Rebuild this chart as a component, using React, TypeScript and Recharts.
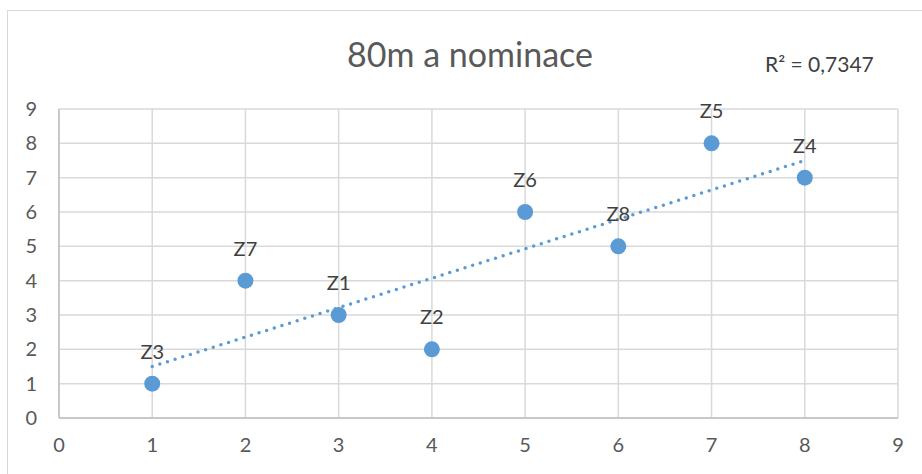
import {
  ScatterChart,
  Scatter,
  XAxis,
  YAxis,
  CartesianGrid,
  ReferenceLine,
} from 'recharts';

const names = ['Z3', 'Z7', 'Z1', 'Z2', 'Z6', 'Z8', 'Z5', 'Z4'];
const xValues = [1, 2, 3, 4, 5, 6, 7, 8];
const yValues = [1, 4, 3, 2, 6, 5, 8, 7];
const axisTicks = [0, 1, 2, 3, 4, 5, 6, 7, 8, 9];
const rSquaredLabel = 'R² = 0,7347';
const title = '80m a nominace';

const points = names.map((name, i) => ({ name, x: xValues[i], y: yValues[i] }));

// least squares line, like the Excel linear trendline
function linearFit(xs: number[], ys: number[]) {
  const n = xs.length;
  const mx = xs.reduce((a, b) => a + b, 0) / n;
  const my = ys.reduce((a, b) => a + b, 0) / n;
  let sxy = 0;
  let sxx = 0;
  xs.forEach((x, i) => {
    sxy += (x - mx) * (ys[i] - my);
    sxx += (x - mx) * (x - mx);
  });
  const slope = sxy / sxx;
  return { slope, intercept: my - slope * mx };
}

const fit = linearFit(xValues, yValues);
const xMin = Math.min(...xValues);
const xMax = Math.max(...xValues);
const trendSegment = [
  { x: xMin, y: fit.intercept + fit.slope * xMin },
  { x: xMax, y: fit.intercept + fit.slope * xMax },
];

const font = 'Lato, "Open Sans", sans-serif';
const tickStyle = { fontSize: 20, fill: '#595959', fontFamily: font };

function PointShape(props: any) {
  const { cx, cy, payload } = props;
  return (
    <g>
      <circle cx={cx} cy={cy} r={8} fill="#5b9bd5" />
      <text
        x={cx}
        y={cy - 25}
        textAnchor="middle"
        fontSize={20}
        fill="#404040"
        fontFamily={font}
      >
        {payload.name}
      </text>
    </g>
  );
}

export default function App() {
  return (
    <div
      style={{
        position: 'absolute',
        left: 0,
        top: 0,
        width: 922,
        height: 474,
        overflow: 'hidden',
        background: '#fff',
        fontFamily: font,
      }}
    >
      <div
        style={{
          position: 'absolute',
          left: 7,
          top: 10,
          width: 940,
          height: 490,
          border: '1px solid #d9d9d9',
        }}
      />
      <div
        style={{
          position: 'absolute',
          left: 0,
          width: 940,
          top: 34,
          textAlign: 'center',
          fontSize: 34,
          color: '#595959',
          lineHeight: '40px',
        }}
      >
        {title}
      </div>
      <div
        style={{
          position: 'absolute',
          left: 765,
          top: 51,
          fontSize: 21,
          color: '#404040',
          lineHeight: '26px',
        }}
      >
        {rSquaredLabel}
      </div>
      <div style={{ position: 'absolute', left: 0, top: 0 }}>
        <ScatterChart
          width={922}
          height={474}
          margin={{ top: 109, right: 24, bottom: 16, left: 19 }}
        >
          <CartesianGrid stroke="#d9d9d9" strokeWidth={1.5} />
          <XAxis
            type="number"
            dataKey="x"
            domain={[0, 9]}
            ticks={axisTicks}
            interval={0}
            height={40}
            tickLine={false}
            tickSize={0}
            tickMargin={20}
            axisLine={{ stroke: '#bfbfbf', strokeWidth: 1.5 }}
            tick={tickStyle}
          />
          <YAxis
            type="number"
            dataKey="y"
            domain={[0, 9]}
            ticks={axisTicks}
            interval={0}
            width={40}
            tickLine={false}
            tickSize={0}
            tickMargin={22}
            axisLine={{ stroke: '#bfbfbf', strokeWidth: 1.5 }}
            tick={tickStyle}
          />
          <ReferenceLine
            segment={trendSegment}
            stroke="#5b9bd5"
            strokeWidth={3.5}
            strokeDasharray="0 8"
            strokeLinecap="round"
            ifOverflow="visible"
          />
          <Scatter
            data={points}
            fill="#5b9bd5"
            shape={PointShape}
            isAnimationActive={false}
          />
        </ScatterChart>
      </div>
    </div>
  );
}
